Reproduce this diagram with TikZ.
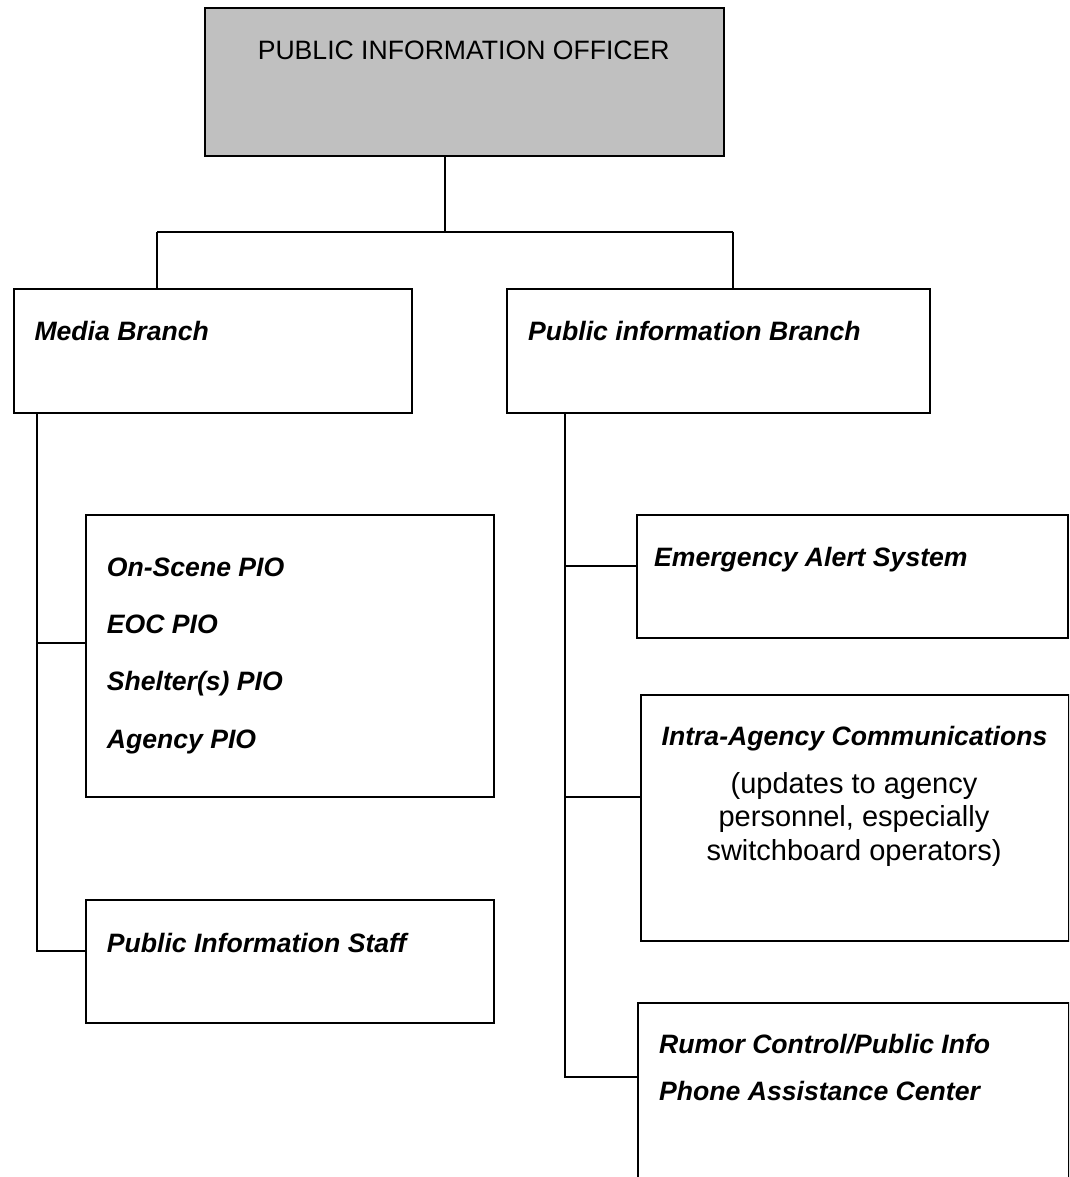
\documentclass[tikz,border=0pt]{standalone}
\usepackage{fontspec}
\setmainfont{Liberation Sans}
\usetikzlibrary{calc}

\tikzset{
  orgbox/.style={draw=black, line width=1.8pt, rectangle, inner sep=0pt,
                 anchor=north west},
  headbox/.style={orgbox, fill=headgray},
  lbl/.style={inner sep=0pt, anchor=base west,
              font=\fontsize{26.6}{30}\selectfont\bfseries\itshape},
  headlbl/.style={inner sep=0pt, anchor=base,
              font=\fontsize{26.6}{30}\selectfont},
  notelbl/.style={inner sep=0pt, anchor=base,
              font=\fontsize{29}{33}\selectfont},
  wire/.style={draw=black, line width=1.8pt}
}
\definecolor{headgray}{HTML}{C0C0C0}

\begin{document}
\begin{tikzpicture}[x=1pt, y=-1pt]
  \useasboundingbox (0,0) rectangle (1069,1177);
  \clip (0,0) rectangle (1069,1177);

  % head of the section
  \node[headbox, minimum width=518.7, minimum height=147.7] (pio) at (204.3,7.3) {};
  \node[headlbl] (t-pio) at (463.7,60) {PUBLIC INFORMATION OFFICER};

  % the two branches
  \node[orgbox, minimum width=398, minimum height=123.4] (media) at (12.7,288.3) {};
  \node[lbl] (t-media) at (34.3,340) {Media Branch};
  \node[orgbox, minimum width=423, minimum height=123.4] (pib) at (506,288.3) {};
  \node[lbl] (t-pib) at (528,340) {Public information Branch};

  % media branch units
  \node[orgbox, minimum width=407.7, minimum height=282] (pios) at (85,514) {};
  \node[lbl] (t-pio1) at (106.7,576) {On-Scene PIO};
  \node[lbl] (t-pio2) at (106.7,633.3) {EOC PIO};
  \node[lbl] (t-pio3) at (106.7,690.7) {Shelter(s) PIO};
  \node[lbl] (t-pio4) at (106.7,748) {Agency PIO};

  \node[orgbox, minimum width=407.7, minimum height=123] (staff) at (85,899.3) {};
  \node[lbl] (t-staff) at (106.7,952) {Public Information Staff};

  % public information branch units
  \node[orgbox, minimum width=430.7, minimum height=122.7] (eas) at (636,514) {};
  \node[lbl] (t-eas) at (654,566.7) {Emergency Alert System};

  \node[orgbox, minimum width=428.3, minimum height=246] (intra) at (640,694) {};
  \node[lbl, anchor=base] (t-intra) at (854.5,745) {Intra-Agency Communications};
  \node[notelbl] (n-intra1) at (854,793.3) {(updates to agency};
  \node[notelbl] (n-intra2) at (854,826.7) {personnel, especially};
  \node[notelbl] (n-intra3) at (854,860) {switchboard operators)};

  \node[orgbox, minimum width=431.3, minimum height=250] (rumor) at (636.7,1001.7) {};
  \node[lbl] (t-rumor1) at (659,1053.3) {Rumor Control/Public Info};
  \node[lbl] (t-rumor2) at (659,1100) {Phone Assistance Center};

  % junction points of the connectors
  \coordinate (hub) at (445,231.7);
  \coordinate (bl) at (157,231.7);
  \coordinate (br) at (732.7,231.7);
  \coordinate (m-j1) at (36.7,642.7);
  \coordinate (m-j2) at (36.7,950.7);
  \coordinate (r-j1) at (565,565.7);
  \coordinate (r-j2) at (565,796.7);
  \coordinate (r-j3) at (565,1076.7);

  % head to branches
  \draw[wire] (pio.south -| hub) -- (hub);
  \draw[wire] (bl) -- (br);
  \draw[wire] (bl) -- (bl |- media.north);
  \draw[wire] (br) -- (br |- pib.north);

  % media branch trunk
  \draw[wire] (media.south -| m-j1) -- (m-j2) -- (m-j2 -| staff.west);
  \draw[wire] (m-j1) -- (m-j1 -| pios.west);

  % public information branch trunk
  \draw[wire] (pib.south -| r-j1) -- (r-j3) -- (r-j3 -| rumor.west);
  \draw[wire] (r-j1) -- (r-j1 -| eas.west);
  \draw[wire] (r-j2) -- (r-j2 -| intra.west);
\end{tikzpicture}
\end{document}
